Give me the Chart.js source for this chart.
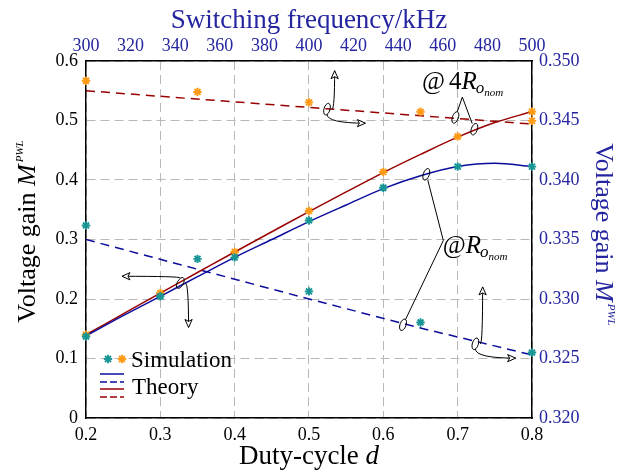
<!DOCTYPE html>
<html><head><meta charset="utf-8">
<script src="https://cdn.jsdelivr.net/npm/chart.js@4/dist/chart.umd.min.js"></script>
<style>html,body{margin:0;padding:0;background:#fff;}#wrap{width:641px;height:476px;position:relative;}</style>
</head><body><div id="wrap"><canvas id="c"></canvas></div>
<script>
// ---- data (bottom/left axes: duty-cycle vs voltage gain) ----
const dutyFine     = [0.2, 0.25, 0.3, 0.35, 0.4, 0.45, 0.5, 0.55, 0.6, 0.65, 0.7, 0.75, 0.8];
const theoryRo     = [0.138, 0.172, 0.2045, 0.2375, 0.270, 0.300, 0.330, 0.358, 0.3855, 0.407, 0.4225, 0.428, 0.4225];
const theory4Ro    = [0.140, 0.175, 0.210, 0.2445, 0.279, 0.313, 0.347, 0.380, 0.4125, 0.443, 0.472, 0.4965, 0.515];
const dutySim      = [0.2, 0.3, 0.4, 0.5, 0.6, 0.7, 0.8];
const simRo        = [0.137, 0.2045, 0.270, 0.332, 0.387, 0.4225, 0.4225];
const sim4Ro       = [0.140, 0.210, 0.279, 0.348, 0.4135, 0.473, 0.515];
// ---- data (top/right axes: switching frequency vs voltage gain) ----
const freqTheory   = [300, 400, 450, 500];
const pwlTheoryRo  = [0.3350, 0.3300, 0.32756, 0.3253];
const pwlTheory4Ro = [0.3475, 0.3461, 0.3454, 0.3447];
const freqSim      = [300, 350, 400, 450, 500];
const pwlSimRo     = [0.33618, 0.33337, 0.33064, 0.32803, 0.3255];
const pwlSim4Ro    = [0.34834, 0.3474, 0.34652, 0.34573, 0.34497];
// ---- tick labels ----
const dutyTicks = ['0.2','0.3','0.4','0.5','0.6','0.7','0.8'];
const gainTicks = ['0','0.1','0.2','0.3','0.4','0.5','0.6'];
const freqTicks = ['300','320','340','360','380','400','420','440','460','480','500'];
const pwlTicks  = ['0.32','0.325','0.33','0.335','0.34','0.345','0.35'];
// ---- text ----
const xTitle = 'Duty-cycle ', xTitleVar = 'd';
const x2Title = 'Switching frequency/kHz';
const yTitle = 'Voltage gain ', yTitleVar = 'M', yTitleSup = 'PWL';
const legendSim = 'Simulation', legendTheory = 'Theory';

const FONT = '"Liberation Serif", "Times New Roman", serif';
const BLUE_TXT = '#2525a0';
const C_BLUE = '#0c0c9c', C_RED = '#990000', C_TEAL = '#189595', C_ORANGE = '#ff9a16';

const pts = (xs, ys) => xs.map((x, i) => ({x: x, y: ys[i]}));
const setTicks = arr => s => { s.ticks = arr.map(t => ({value: parseFloat(t), label: t})); };
const fit = (prop, val) => s => { s[prop] = val; };

const starSet = (label, xs, ys, color, xa, ya) => ({
  label, data: pts(xs, ys), xAxisID: xa, yAxisID: ya, showLine: false,
  pointStyle: 'star', pointRadius: 4.2, pointBorderWidth: 1.9,
  pointBorderColor: color, pointBackgroundColor: color, borderColor: color, clip: false
});
const lineSet = (label, xs, ys, color, xa, ya, dash, tension) => ({
  label, data: pts(xs, ys), xAxisID: xa, yAxisID: ya, showLine: true,
  borderColor: color, borderWidth: 1.5, borderDash: dash, pointRadius: 0,
  tension: tension, cubicInterpolationMode: tension ? 'monotone' : 'default', fill: false
});

// annotation anchors in data units (duty-cycle, left gain)
const axisMarks = [
  {e: [0.3269, 0.2270], a: [[0.2484, 0.2382, 'h'], [0.3380, 0.1522, 'v']], rot: 0.5},
  {e: [0.5242, 0.5191], a: [[0.5345, 0.5837, 'v'], [0.5758, 0.4955, 'h']], rot: 0.3},
  {e: [0.7238, 0.1247], a: [[0.7336, 0.2203, 'v'], [0.7780, 0.1006, 'h']], rot: 0.3}
];
const labelMarks = [
  {text: '4', join: [0.7063, 0.5394], pos: [0.6520, 0.5528], ends: [[0.6969, 0.5051], [0.7224, 0.4854]]},
  {text: '',  join: [0.6807, 0.2983], pos: [0.6800, 0.2781], ends: [[0.6578, 0.4096], [0.6265, 0.1567]]}
];

function arrowHead(ctx, x, y, ang) {
  const L = 8, W = 3.6;
  ctx.save(); ctx.translate(x, y); ctx.rotate(ang);
  ctx.beginPath(); ctx.moveTo(0, 0); ctx.lineTo(-L, -W); ctx.lineTo(-L * 0.75, 0); ctx.lineTo(-L, W); ctx.closePath();
  ctx.fillStyle = '#fff'; ctx.fill(); ctx.stroke(); ctx.restore();
}
function ell(ctx, x, y, rot) {
  ctx.beginPath(); ctx.ellipse(x, y, 3, 6, rot, 0, Math.PI * 2); ctx.stroke();
}

const decor = {
  id: 'decor',
  afterDraw(chart) {
    const ctx = chart.ctx, ca = chart.chartArea;
    const sx = chart.scales.x, sy = chart.scales.y;
    const P = (d, v) => [sx.getPixelForValue(d), sy.getPixelForValue(v)];
    const cx = (ca.left + ca.right) / 2, cy = (ca.top + ca.bottom) / 2;
    ctx.save();
    // titles
    ctx.textBaseline = 'alphabetic';
    ctx.fillStyle = BLUE_TXT; ctx.font = '27px ' + FONT; ctx.textAlign = 'center';
    ctx.fillText(x2Title, cx, 28);
    ctx.fillStyle = '#000'; ctx.textAlign = 'left';
    ctx.font = '27px ' + FONT; const w1 = ctx.measureText(xTitle).width;
    ctx.font = 'italic 27px ' + FONT; const w2 = ctx.measureText(xTitleVar).width;
    let x0 = cx - (w1 + w2) / 2;
    ctx.font = '27px ' + FONT; ctx.fillText(xTitle, x0, 464);
    ctx.font = 'italic 27px ' + FONT; ctx.fillText(xTitleVar, x0 + w1, 464);
    const drawY = (color) => {
      ctx.font = '26px ' + FONT; const a = ctx.measureText(yTitle).width;
      ctx.font = 'italic 26px ' + FONT; const b = ctx.measureText(yTitleVar).width;
      ctx.font = 'italic 11px ' + FONT; const c = ctx.measureText(yTitleSup).width;
      let s = -(a + b + c + 2) / 2;
      ctx.fillStyle = color;
      ctx.font = '26px ' + FONT; ctx.fillText(yTitle, s, 0);
      ctx.font = 'italic 26px ' + FONT; ctx.fillText(yTitleVar, s + a, 0);
      ctx.font = 'italic 11px ' + FONT; ctx.fillText(yTitleSup, s + a + b + 2, -12);
    };
    ctx.save(); ctx.translate(35, cy - 8); ctx.rotate(-Math.PI / 2); drawY('#000'); ctx.restore();
    ctx.save(); ctx.translate(596, cy - 5); ctx.rotate(Math.PI / 2); drawY(BLUE_TXT); ctx.restore();

    // axis indicator marks
    ctx.strokeStyle = '#000'; ctx.lineWidth = 1;
    axisMarks.forEach(m => {
      const [ex, ey] = P(m.e[0], m.e[1]);
      m.a.forEach(t => {
        const [tx, ty] = P(t[0], t[1]);
        const ctrl = t[2] === 'h' ? [ex, ty] : [tx, ey];
        const dx = ctrl[0] - ex, dy = ctrl[1] - ey, dl = Math.hypot(dx, dy) || 1;
        ctx.beginPath(); ctx.moveTo(ex + dx / dl * 5, ey + dy / dl * 5);
        ctx.quadraticCurveTo(ctrl[0], ctrl[1], tx, ty); ctx.stroke();
        arrowHead(ctx, tx, ty, Math.atan2(ty - ctrl[1], tx - ctrl[0]));
      });
      ell(ctx, ex, ey, m.rot);
    });
    // @R labels
    labelMarks.forEach(m => {
      const [jx, jy] = P(m.join[0], m.join[1]);
      m.ends.forEach(e => {
        const [x, y] = P(e[0], e[1]);
        const dx = jx - x, dy = jy - y, dl = Math.hypot(dx, dy);
        ctx.beginPath(); ctx.moveTo(jx, jy); ctx.lineTo(x + dx / dl * 6, y + dy / dl * 6); ctx.stroke();
        ell(ctx, x, y, 0.35);
      });
      let [lx, ly] = P(m.pos[0], m.pos[1]);
      ctx.fillStyle = '#000';
      ctx.font = '25px ' + FONT; ctx.fillText('@', lx, ly); lx += ctx.measureText('@').width + (m.text ? 4 : 0);
      if (m.text) { ctx.fillText(m.text, lx, ly); lx += ctx.measureText(m.text).width; }
      ctx.font = 'italic 25px ' + FONT; ctx.fillText('R', lx, ly); lx += ctx.measureText('R').width - 1;
      ctx.font = 'italic 17px ' + FONT; ctx.fillText('o', lx, ly + 4); lx += ctx.measureText('o').width;
      ctx.font = 'italic 11px ' + FONT; ctx.fillText('nom', lx, ly + 7);
    });

    // legend
    const L = ca.left;
    const star = (x, y, col) => {
      ctx.save(); ctx.strokeStyle = col; ctx.lineWidth = 1.9;
      for (let i = 0; i < 4; i++) {
        const a = i * Math.PI / 4; ctx.beginPath();
        ctx.moveTo(x - 4.2 * Math.cos(a), y - 4.2 * Math.sin(a)); ctx.lineTo(x + 4.2 * Math.cos(a), y + 4.2 * Math.sin(a)); ctx.stroke();
      }
      ctx.restore();
    };
    star(L + 22, 359, C_TEAL); star(L + 36, 359, C_ORANGE);
    ctx.fillStyle = '#000'; ctx.font = '23px ' + FONT; ctx.fillText(legendSim, L + 45, 367);
    const seg = (y, col, dash) => { ctx.save(); ctx.strokeStyle = col; ctx.lineWidth = 1.5; ctx.setLineDash(dash);
      ctx.beginPath(); ctx.moveTo(L + 14, y); ctx.lineTo(L + 38, y); ctx.stroke(); ctx.restore(); };
    seg(374, C_BLUE, []); seg(382, C_BLUE, [7, 3]); seg(389, C_RED, []); seg(397, C_RED, [7, 3]);
    ctx.fillText(legendTheory, L + 46, 394);
    ctx.restore();
  }
};

new Chart(document.getElementById('c'), {
  type: 'scatter',
  data: { datasets: [
    starSet('Simulation @Ro', dutySim, simRo, C_TEAL, 'x', 'y'),
    starSet('Simulation @4Ro', dutySim, sim4Ro, C_ORANGE, 'x', 'y'),
    starSet('Simulation PWL @Ro', freqSim, pwlSimRo, C_TEAL, 'x2', 'y2'),
    starSet('Simulation PWL @4Ro', freqSim, pwlSim4Ro, C_ORANGE, 'x2', 'y2'),
    lineSet('Theory @Ro', dutyFine, theoryRo, C_BLUE, 'x', 'y', [], 0.4),
    lineSet('Theory @4Ro', dutyFine, theory4Ro, C_RED, 'x', 'y', [], 0.4),
    lineSet('Theory PWL @Ro', freqTheory, pwlTheoryRo, C_BLUE, 'x2', 'y2', [9, 6], 0),
    lineSet('Theory PWL @4Ro', freqTheory, pwlTheory4Ro, C_RED, 'x2', 'y2', [9, 6], 0)
  ]},
  options: {
    responsive: true, maintainAspectRatio: false, animation: false,
    layout: { padding: 0 },
    plugins: { legend: { display: false }, tooltip: { enabled: false } },
    scales: {
      x: { type: 'linear', position: 'bottom', min: 0.2, max: 0.8,
        afterBuildTicks: setTicks(dutyTicks), afterFit: fit('height', 58),
        grid: { color: '#b8b8b8', lineWidth: 1, drawTicks: false },
        border: { display: true, color: '#000', width: 1.5, dash: [9, 5] },
        ticks: { color: '#000', font: { family: FONT, size: 18 }, padding: 6, maxRotation: 0, autoSkip: false } },
      x2: { type: 'linear', position: 'top', min: 300, max: 500,
        afterBuildTicks: setTicks(freqTicks), afterFit: fit('height', 61),
        grid: { display: false, drawTicks: false },
        border: { display: true, color: '#000', width: 1.5 },
        ticks: { color: BLUE_TXT, font: { family: FONT, size: 18 }, padding: 4, maxRotation: 0, autoSkip: false } },
      y: { type: 'linear', position: 'left', min: 0, max: 0.6,
        afterBuildTicks: setTicks(gainTicks), afterFit: fit('width', 86),
        grid: { color: '#b8b8b8', lineWidth: 1, drawTicks: false },
        border: { display: true, color: '#000', width: 1.5, dash: [9, 5] },
        ticks: { color: '#000', font: { family: FONT, size: 18 }, padding: 8, autoSkip: false } },
      y2: { type: 'linear', position: 'right', min: 0.32, max: 0.35,
        afterBuildTicks: setTicks(pwlTicks), afterFit: fit('width', 109),
        grid: { display: false, drawTicks: false },
        border: { display: true, color: '#000', width: 1.5 },
        ticks: { color: BLUE_TXT, font: { family: FONT, size: 18 }, padding: 7, autoSkip: false } }
    }
  },
  plugins: [decor]
});
</script></body></html>
